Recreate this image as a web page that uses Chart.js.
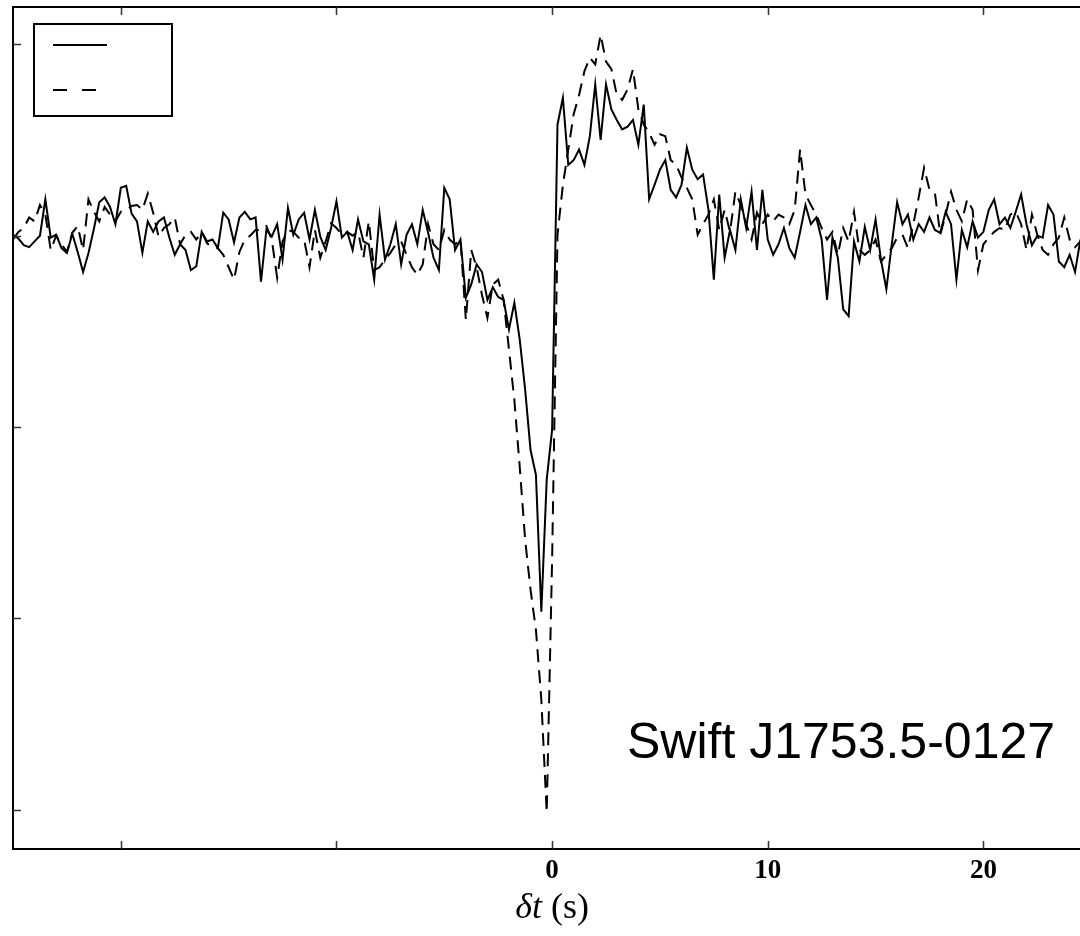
<!DOCTYPE html>
<html>
<head>
<meta charset="utf-8">
<script src="https://cdn.jsdelivr.net/npm/chart.js@4.4.0/dist/chart.umd.min.js"></script>
<style>
  html, body { margin: 0; padding: 0; background: #fff; }
  #wrap { width: 1080px; height: 936px; }
</style>
</head>
<body>
<div id="wrap"><canvas id="lagChart" width="1080" height="936"></canvas></div>
<script>
// sampling of the lag axis (s)
var tStart = -25, tStep = 0.25;

// solid curve
var curveSolid = [
  0.001, -0.003, -0.010, -0.012, -0.006, 0.000, 0.038, -0.002, 0.001, -0.013,
  -0.018, 0.002, -0.017, -0.038, -0.018, 0.007, 0.035, 0.040, 0.030, 0.012,
  0.050, 0.052, 0.023, 0.015, -0.018, 0.015, 0.004, 0.015, 0.019, -0.002,
  -0.020, -0.009, -0.015, -0.036, -0.032, 0.004, -0.006, -0.004, -0.013, 0.024,
  0.017, -0.007, 0.019, 0.025, 0.017, 0.019, -0.048, 0.006, -0.001, 0.012,
  -0.025, 0.029, 0.001, 0.017, 0.024, -0.004, 0.027, -0.001, -0.015, 0.008,
  0.036, -0.002, 0.004, -0.015, 0.017, -0.006, -0.009, -0.046, 0.022, -0.025,
  -0.009, 0.012, -0.030, 0.001, 0.012, -0.009, 0.027, 0.003, -0.023, -0.036,
  0.050, 0.038, -0.015, -0.004, -0.065, -0.051, -0.030, -0.038, -0.067, -0.054,
  -0.064, -0.067, -0.098, -0.070, -0.109, -0.161, -0.224, -0.250, -0.393, -0.255,
  -0.203, 0.116, 0.144, 0.074, 0.079, 0.090, 0.074, 0.104, 0.158, 0.100,
  0.158, 0.132, 0.121, 0.111, 0.114, 0.121, 0.095, 0.137, 0.038, 0.053,
  0.069, 0.079, 0.048, 0.040, 0.053, 0.092, 0.069, 0.059, 0.064, 0.027,
  -0.046, 0.043, -0.023, 0.006, -0.015, 0.038, 0.008, 0.046, -0.015, 0.048,
  -0.004, -0.020, -0.009, 0.008, -0.013, -0.023, 0.004, 0.032, 0.012, 0.019,
  -0.004, -0.067, -0.002, -0.023, -0.077, -0.084, -0.006, -0.027, 0.009, -0.015,
  0.017, -0.025, -0.056, -0.009, 0.035, 0.012, 0.022, -0.004, 0.012, 0.004,
  0.019, 0.006, 0.003, 0.025, 0.012, -0.046, 0.006, -0.012, 0.015, -0.002,
  0.004, 0.027, 0.038, 0.012, 0.019, 0.008, 0.025, 0.043, 0.012, -0.010,
  0.000, -0.002, 0.032, 0.022, -0.027, -0.033, -0.020, -0.038, -0.004
];

// dashed curve
var curveDashed = [
  -0.004, 0.004, 0.008, 0.019, 0.015, 0.032, 0.022, -0.015, 0.000, -0.009,
  -0.017, 0.003, 0.010, -0.015, 0.038, 0.025, 0.015, 0.030, 0.022, 0.015,
  0.025, 0.027, 0.031, 0.032, 0.027, 0.044, 0.024, -0.001, 0.008, 0.012,
  0.019, -0.009, 0.001, 0.004, -0.004, 0.004, -0.008, -0.012, -0.013, -0.020,
  -0.033, -0.046, -0.017, -0.004, 0.000, 0.006, 0.006, 0.010, -0.004, -0.044,
  -0.006, 0.006, 0.004, -0.002, -0.004, -0.033, 0.006, -0.023, -0.006, 0.013,
  0.008, 0.001, 0.004, 0.000, 0.004, -0.023, 0.015, -0.036, -0.033, -0.025,
  -0.018, -0.009, -0.006, -0.020, -0.033, -0.041, -0.030, 0.012, -0.009, -0.015,
  0.006, -0.004, -0.009, -0.004, -0.088, -0.015, -0.033, -0.062, -0.086, -0.051,
  -0.046, -0.067, -0.119, -0.172, -0.242, -0.318, -0.370, -0.412, -0.485, -0.603,
  -0.339, 0.001, 0.053, 0.090, 0.127, 0.147, 0.172, 0.186, 0.179, 0.210,
  0.182, 0.174, 0.147, 0.142, 0.153, 0.174, 0.132, 0.116, 0.108, 0.095,
  0.106, 0.104, 0.079, 0.074, 0.061, 0.050, 0.038, 0.001, 0.012, 0.022,
  0.038, 0.006, 0.027, 0.004, 0.046, 0.032, 0.012, -0.004, 0.024, 0.012,
  0.022, 0.015, 0.022, 0.019, 0.012, 0.027, 0.090, 0.043, 0.032, 0.022,
  0.008, -0.004, 0.004, -0.020, 0.008, -0.006, 0.025, -0.015, -0.020, -0.015,
  -0.004, -0.027, -0.020, -0.013, -0.002, 0.001, -0.013, 0.012, 0.040, 0.071,
  0.048, 0.045, 0.001, 0.022, 0.046, 0.027, 0.015, 0.038, 0.027, -0.036,
  -0.009, -0.002, 0.004, 0.008, 0.006, 0.022, 0.025, 0.012, -0.015, 0.022,
  0.001, -0.015, -0.020, -0.009, -0.002, 0.019, -0.004, -0.012, -0.006
];

var xTicks = [-20, -10, 0, 10, 20];
var xTickLabels = ['', '', '0', '10', '20'];
var yTicks = [-0.6, -0.4, -0.2, 0, 0.2];
var sourceName = 'Swift J1753.5-0127';

var times = curveSolid.map(function (_, i) { return tStart + i * tStep; });
function toPoints(vals) {
  return vals.map(function (v, i) { return { x: times[i], y: v }; });
}

// spines, inward ticks, empty legend box, axis title and source label
var framePlugin = {
  id: 'frame',
  afterDraw: function (chart) {
    var c = chart.ctx, a = chart.chartArea;
    var xs = chart.scales.x, ys = chart.scales.y;
    c.save();
    c.strokeStyle = '#000';
    c.lineWidth = 2;
    c.beginPath();
    c.moveTo(a.right + 2, a.top); c.lineTo(a.left, a.top);
    c.lineTo(a.left, a.bottom); c.lineTo(a.right + 2, a.bottom);
    c.stroke();

    c.strokeStyle = '#333';
    c.lineWidth = 1.5;
    c.beginPath();
    xTicks.forEach(function (v) {
      var px = Math.round(xs.getPixelForValue(v)) + 0.5;
      c.moveTo(px, a.bottom); c.lineTo(px, a.bottom - 8);
      c.moveTo(px, a.top); c.lineTo(px, a.top + 8);
    });
    yTicks.forEach(function (v) {
      var py = Math.round(ys.getPixelForValue(v)) + 0.5;
      c.moveTo(a.left, py); c.lineTo(a.left + 8, py);
    });
    c.stroke();

    // legend box (no labels)
    c.fillStyle = '#fff';
    c.fillRect(34, 24, 138, 92);
    c.strokeStyle = '#000';
    c.lineWidth = 2;
    c.strokeRect(34, 24, 138, 92);
    c.beginPath();
    c.moveTo(53, 45); c.lineTo(107, 45);
    c.stroke();
    c.setLineDash([14, 15]);
    c.beginPath();
    c.moveTo(53, 90); c.lineTo(96, 90);
    c.stroke();
    c.setLineDash([]);

    // axis title: italic delta t, upright (s)
    var cx = xs.getPixelForValue((xs.min + 25) / 2);
    c.fillStyle = '#000';
    c.textBaseline = 'alphabetic';
    var f1 = 'italic 36px "Liberation Serif"', f2 = '36px "Liberation Serif"';
    c.font = f1; var w1 = c.measureText('\u03b4t').width;
    c.font = f2; var w2 = c.measureText(' (s)').width;
    var x0 = cx - (w1 + w2) / 2;
    c.font = f1; c.fillText('\u03b4t', x0, 918);
    c.font = f2; c.fillText(' (s)', x0 + w1, 918);

    c.font = '50px "Liberation Sans"';
    c.fillText(sourceName, 627, 758);
    c.restore();
  }
};

var ctx = document.getElementById('lagChart').getContext('2d');
var lagChart = new Chart(ctx, {
  type: 'line',
  data: {
    datasets: [{
      label: 'solid',
      data: toPoints(curveSolid),
      borderColor: '#000',
      borderWidth: 2,
      pointRadius: 0,
      fill: false
    }, {
      label: 'dashed',
      data: toPoints(curveDashed),
      borderColor: '#000',
      borderWidth: 2,
      borderDash: [13, 8],
      pointRadius: 0,
      fill: false
    }]
  },
  options: {
    responsive: false,
    animation: false,
    layout: { padding: { left: 13, top: 7, right: 0, bottom: 0 } },
    plugins: { legend: { display: false }, tooltip: { enabled: false } },
    scales: {
      x: {
        type: 'linear',
        min: -25,
        max: 24.48,
        grid: { display: false, drawTicks: false },
        border: { display: false },
        afterBuildTicks: function (axis) {
          axis.ticks = xTicks.map(function (v) { return { value: v }; });
        },
        afterFit: function (axis) { axis.height = 87; },
        ticks: {
          color: '#000',
          padding: 6,
          maxRotation: 0,
          font: { family: 'Liberation Serif', size: 27, weight: 'bold' },
          callback: function (v) {
            var k = xTicks.indexOf(v);
            return k >= 0 ? xTickLabels[k] : '';
          }
        }
      },
      y: {
        display: false,
        min: -0.641,
        max: 0.239
      }
    }
  },
  plugins: [framePlugin]
});
</script>
</body>
</html>
